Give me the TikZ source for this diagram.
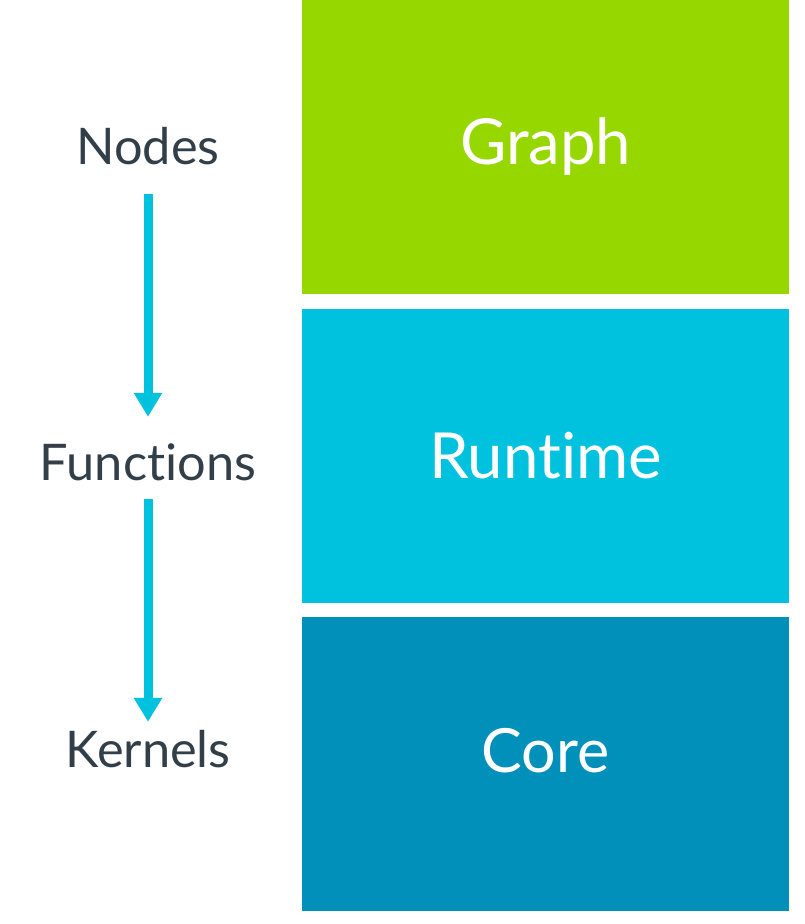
\documentclass[tikz,border=0pt]{standalone}
\usepackage{fontspec}
\setmainfont{Lato}[Ligatures={NoCommon}]
\usetikzlibrary{arrows.meta, positioning}
\definecolor{graphgreen}{HTML}{97D700}
\definecolor{runtimecyan}{HTML}{00C1DE}
\definecolor{coreblue}{HTML}{0090BA}
\definecolor{labelgray}{HTML}{333F48}

\begin{document}
\begin{tikzpicture}[
    x=1pt, y=-1pt,
    layer/.style={minimum width=487pt, minimum height=294pt, inner sep=0pt,
        text=white},
    level label/.style={text=labelgray, inner sep=0pt, anchor=base,
        text height=38pt, text depth=0pt, font=\fontsize{50.5}{50.5}\selectfont},
    flow/.style={draw=runtimecyan, line width=9pt,
        -{Triangle[width=27pt, length=24pt]}}]

\useasboundingbox (0,0) rectangle (804,924);

% Layers on the right
\node[layer, fill=graphgreen, anchor=north west, text height=44pt, text depth=10pt,
    font=\fontsize{63.5}{63.5}\selectfont] (graph) at (302,0) {Graph};
\node[layer, fill=runtimecyan, below=14pt of graph, text height=46pt, text depth=0pt,
    font=\fontsize{63.5}{63.5}\selectfont] (runtime) {Runtime};
\node[layer, fill=coreblue, below=14pt of runtime, text height=44pt, text depth=28pt,
    font=\fontsize{61}{61}\selectfont] (core) {Core};

% Levels on the left
\node[level label] (nodes) at (148,164) {Nodes};
\node[level label] (functions) at (148,480) {Functions};
\node[level label] (kernels) at (148,767) {Kernels};

% Arrows between levels
\draw[flow, shorten <=30pt, shorten >=25pt] (nodes.south) -- (functions.north);
\draw[flow, shorten <=19pt, shorten >=7pt] (functions.south) -- (kernels.north);

\end{tikzpicture}
\end{document}
